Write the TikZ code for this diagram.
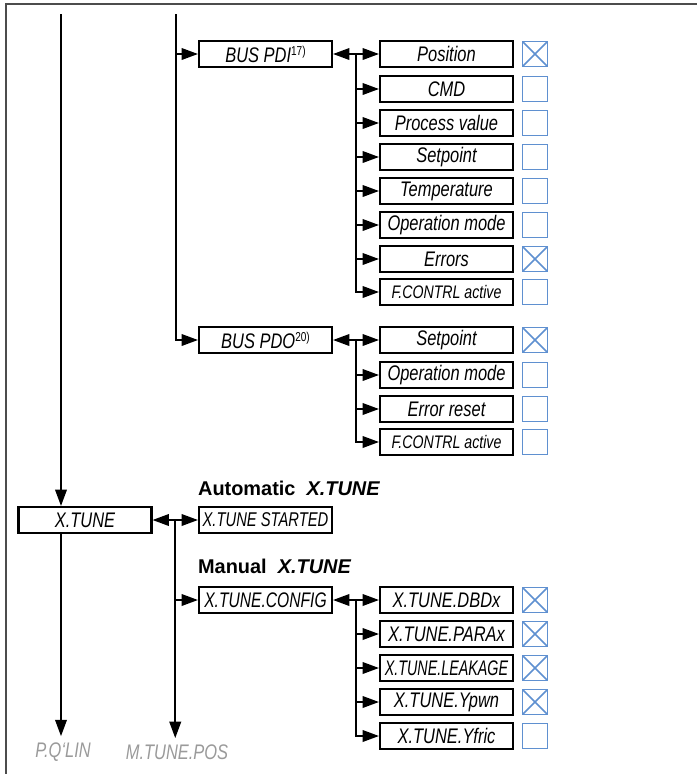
\documentclass[tikz,border=0pt]{standalone}
\usepackage{fontspec}
\setmainfont{Liberation Sans}
\newfontfamily\narrowfont{Liberation Sans}[FakeStretch=0.78]
\usetikzlibrary{arrows.meta}
\definecolor{chkblue}{HTML}{5F90D0}
\definecolor{labelgray}{HTML}{9A9A9A}
\newcommand{\itemfont}{\narrowfont\itshape\fontsize{18}{18}\selectfont}
\newcommand{\fcontrl}{{\fontsize{15.5}{15.5}\selectfont F.CONTRL active}}
\newcommand{\leakage}{\scalebox{0.87}[1]{X.TUNE.LEAKAGE}}
\newcommand{\supnote}[1]{\raisebox{6pt}{\fontsize{11}{11}\selectfont\upshape #1}}

\begin{document}
\begin{tikzpicture}[x=0.03cm,y=-0.03cm,>={Triangle[length=14pt,width=10pt]},
    menu/.style={draw,line width=1.8pt,minimum width=3.99cm,minimum height=0.78cm,inner sep=0pt,font=\itemfont},
    chk/.style={draw=chkblue,line width=1.4pt,minimum size=0.76cm,inner sep=0pt},
    ticked/.style={chk,path picture={\draw[chkblue,line width=1.3pt]
      (path picture bounding box.north west) -- (path picture bounding box.south east)
      (path picture bounding box.north east) -- (path picture bounding box.south west);}},
    unticked/.style={chk},
    wire/.style={line width=1.3pt},
    outlabel/.style={text=labelgray,font=\itemfont},
    heading/.style={font=\bfseries\fontsize{17}{17}\selectfont,anchor=west}]
    \useasboundingbox (0,0) rectangle (697,774);
    \draw[line width=1.8pt,black!70] (6,774) -- (6,4) -- (697,4);

    \coordinate (top1) at (61,14);
    \coordinate (top2) at (176,14);
    \node[menu] (pdi) at (265.5,54) {BUS PDI\supnote{17)}};
    \node[menu] (pdo) at (265.5,340) {BUS PDO\supnote{20)}};
    \node[menu] (xtune) at (85,520) {X.TUNE};
    \node[menu] (started) at (265.5,520) {\fontsize{17}{17}\selectfont\scalebox{0.95}[1]{X.TUNE STARTED}};
    \node[menu] (config) at (265.5,600) {\scalebox{0.95}[1]{X.TUNE.CONFIG}};
    \node[heading] (auto) at (194,488) {Automatic\ \ \textit{X.TUNE}};
    \node[heading] (manual) at (194,566) {Manual\ \ \textit{X.TUNE}};
    \node[outlabel] (pq) at (63,752) {P.Q‘LIN};
    \node[outlabel] (mtune) at (177,752) {M.TUNE.POS};

    % BUS PDI entries
    \foreach \y/\lbl/\mark [count=\i] in {54/Position/ticked, 89/CMD/unticked,
      123/Process value/unticked, 157/Setpoint/unticked, 191/Temperature/unticked,
      225/Operation mode/unticked, 259/Errors/ticked, 292/\fcontrl/unticked}
    {
      \node[menu] (pdi\i) at (446.5,\y) {\lbl};
      \node[\mark] (pdibox\i) at (535,\y) {};
    }
    % BUS PDO entries
    \foreach \y/\lbl/\mark [count=\i] in {340/Setpoint/ticked, 375/Operation mode/unticked,
      409/Error reset/unticked, 442/\fcontrl/unticked}
    {
      \node[menu] (pdo\i) at (446.5,\y) {\lbl};
      \node[\mark] (pdobox\i) at (535,\y) {};
    }
    % X.TUNE.CONFIG entries
    \foreach \y/\lbl/\mark [count=\i] in {600/X.TUNE.DBDx/ticked, 634/X.TUNE.PARAx/ticked,
      668/\leakage/ticked, 702/X.TUNE.Ypwn/ticked, 736/X.TUNE.Yfric/unticked}
    {
      \node[menu] (cfg\i) at (446.5,\y) {\lbl};
      \node[\mark] (cfgbox\i) at (535,\y) {};
    }

    \path (pdi.east) -- (pdi1.west) coordinate[pos=0.5] (pdijoin);
    \path (pdo.east) -- (pdo1.west) coordinate[pos=0.5] (pdojoin);
    \path (config.east) -- (cfg1.west) coordinate[pos=0.5] (cfgjoin);
    \path (xtune.east) -- (started.west) coordinate[pos=0.5] (tunejoin);

    \draw[wire,<->] (pdi) -- (pdi1);
    \draw[wire,<->] (pdo) -- (pdo1);
    \draw[wire,<->] (config) -- (cfg1);
    \draw[wire,<->] (xtune) -- (started);
    \foreach \i in {2,...,8} \draw[wire,->] (pdijoin) |- (pdi\i.west);
    \foreach \i in {2,...,4} \draw[wire,->] (pdojoin) |- (pdo\i.west);
    \foreach \i in {2,...,5} \draw[wire,->] (cfgjoin) |- (cfg\i.west);

    \draw[wire,->] (top2) |- (pdi.west);
    \draw[wire,->] (top2) |- (pdo.west);
    \draw[wire,->] (top1) -- (top1 |- xtune.north);
    \draw[wire,->] (xtune.south -| top1) -- ([yshift=2pt]top1 |- pq.north);
    \draw[wire,->] (tunejoin) |- (config.west);
    \draw[wire,->] (tunejoin) -- ([yshift=2pt]tunejoin |- mtune.north);
  \end{tikzpicture}
\end{document}
